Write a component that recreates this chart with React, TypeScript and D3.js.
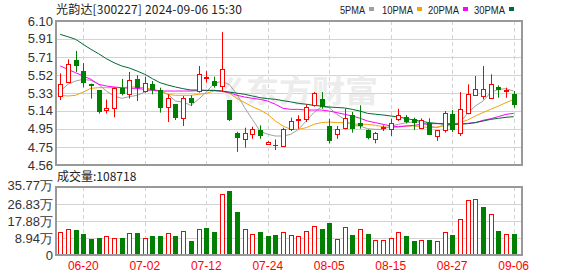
import React from "react";
import * as d3 from "d3";

const dates = [
  "06-17","06-18","06-19","06-20","06-21","06-24","06-25","06-26","06-27","06-28",
  "07-01","07-02","07-03","07-04","07-05","07-08","07-09","07-10","07-11","07-12",
  "07-15","07-16","07-17","07-18","07-19","07-22","07-23","07-24","07-25","07-26",
  "07-29","07-30","07-31","08-01","08-02","08-05","08-06","08-07","08-08","08-09",
  "08-12","08-13","08-14","08-15","08-16","08-19","08-20","08-21","08-22","08-23",
  "08-26","08-27","08-28","08-29","08-30","09-02","09-03","09-04","09-05","09-06",
];

const opens = [
  5.30,5.45,5.68,5.56,5.43,5.36,5.15,5.17,5.38,5.32,
  5.476,5.35,5.43,5.36,5.184,5.209,5.059,5.28,5.351,5.487,
  5.458,5.405,5.252,4.906,4.834,4.895,4.93,4.788,4.777,4.763,
  4.941,5.048,5.055,5.2,5.262,4.977,4.888,4.959,5.095,5.005,
  4.93,4.834,4.952,4.941,5.048,5.073,5.055,4.959,5.013,4.87,
  4.93,5.102,4.906,5.12,5.312,5.298,5.28,5.398,5.348,5.323,
];
const closes = [
  5.43,5.64,5.62,5.44,5.405,5.13,5.166,5.38,5.32,5.47,
  5.387,5.44,5.36,5.166,5.28,5.059,5.28,5.227,5.53,5.505,
  5.405,5.59,5.041,4.845,4.906,4.941,4.87,4.809,4.77,4.948,
  5.03,5.055,5.184,5.326,5.184,4.817,4.941,5.066,4.941,4.977,
  4.852,4.899,4.966,5.013,5.095,5.02,5.005,5.041,4.88,4.93,
  5.12,4.934,5.155,5.316,5.376,5.369,5.43,5.358,5.362,5.198,
];
const highs = [
  5.54,5.69,5.78,5.65,5.43,5.36,5.26,5.39,5.48,5.555,
  5.52,5.505,5.458,5.387,5.316,5.209,5.298,5.305,5.619,5.565,
  5.505,5.982,5.252,4.916,4.959,4.97,4.984,4.816,4.834,4.959,
  5.066,5.091,5.209,5.34,5.34,5.055,4.977,5.162,5.127,5.198,
  4.941,4.913,4.984,5.055,5.162,5.095,5.066,5.059,5.059,4.93,
  5.137,5.148,5.34,5.423,5.512,5.619,5.53,5.412,5.387,5.351,
];
const lows = [
  5.255,5.44,5.555,5.39,5.27,5.11,5.11,5.07,5.305,5.27,
  5.244,5.334,5.316,5.12,5.02,5.041,4.977,5.19,5.334,5.44,
  5.387,5.344,5.03,4.70,4.745,4.84,4.84,4.777,4.72,4.763,
  4.923,4.948,5.02,5.184,5.162,4.792,4.84,4.941,4.906,4.948,
  4.834,4.792,4.923,4.87,5.03,5.005,4.934,4.948,4.88,4.817,
  4.906,4.913,4.87,5.102,5.312,5.262,5.28,5.28,5.28,5.173,
];

// 成交量 (万)
const volumes = [
  12.1,13.5,13.2,11.0,8.4,8.9,9.8,8.8,8.9,11.4,
  11.7,8.9,10.0,10.0,11.4,10.0,12.6,7.4,13.5,14.2,
  12.1,32.1,33.7,22.6,13.5,11.0,12.1,10.0,10.5,12.1,
  10.5,10.0,12.6,15.3,13.9,17.0,8.4,14.7,10.7,13.7,
  11.2,7.9,7.9,8.9,12.1,10.0,7.5,7.9,7.9,7.4,
  12.1,10.5,18.8,28.9,29.5,25.2,21.6,12.6,11.0,10.87,
];

const ma5 = [
  5.351,5.423,5.458,5.476,5.465,5.423,5.351,5.298,5.273,5.291,
  5.305,5.34,5.369,5.351,5.316,5.244,5.234,5.198,5.262,5.34,
  5.43,5.455,5.42,5.316,5.173,5.048,4.923,4.888,4.87,4.87,
  4.888,4.941,5.03,5.12,5.184,5.173,5.102,5.048,4.984,4.977,
  4.948,4.941,4.941,4.977,4.995,5.013,5.02,5.02,4.977,4.959,
  4.984,4.977,5.013,5.112,5.19,5.244,5.334,5.369,5.376,5.351,
];
const ma10 = [
  5.305,5.298,5.305,5.34,5.38,5.387,5.387,5.387,5.387,5.394,
  5.394,5.387,5.369,5.351,5.316,5.305,5.305,5.305,5.316,5.326,
  5.351,5.351,5.326,5.273,5.227,5.184,5.148,5.102,5.03,4.977,
  4.941,4.941,4.959,4.995,5.013,5.02,5.013,5.013,5.0,4.995,
  4.995,4.984,4.97,4.959,4.966,4.977,4.977,4.97,4.959,4.966,
  4.984,4.995,5.013,5.041,5.084,5.12,5.155,5.19,5.227,5.262,
];
const ma20 = [
  5.619,5.583,5.547,5.512,5.476,5.423,5.405,5.394,5.387,5.38,
  5.38,5.369,5.358,5.351,5.351,5.351,5.351,5.351,5.355,5.358,
  5.358,5.351,5.334,5.305,5.287,5.273,5.262,5.244,5.209,5.166,
  5.155,5.155,5.148,5.148,5.148,5.137,5.12,5.102,5.084,5.06,
  5.03,5.013,4.995,4.977,4.97,4.977,4.984,4.995,5.002,5.002,
  5.005,5.002,5.002,5.005,5.013,5.038,5.055,5.077,5.102,5.112,
];
const ma30 = [
  5.957,5.932,5.904,5.85,5.797,5.75,5.697,5.654,5.619,5.597,
  5.565,5.53,5.483,5.44,5.415,5.394,5.376,5.362,5.362,5.358,
  5.358,5.35,5.34,5.328,5.316,5.298,5.28,5.27,5.262,5.248,
  5.235,5.219,5.21,5.198,5.19,5.18,5.175,5.17,5.155,5.137,
  5.112,5.103,5.095,5.084,5.073,5.057,5.041,5.027,5.013,5.005,
  4.995,4.995,4.995,5.002,5.013,5.03,5.048,5.059,5.07,5.077,
];

const priceTicks = ["6.10","5.91","5.71","5.52","5.33","5.14","4.95","4.75","4.56"];
const volTickValues = [0, 8.94, 17.88, 26.83, 35.77];
const volTickLabels = ["0", "8.94万", "17.88万", "26.83万", "35.77万"];
const xTickLabels = ["06-20","07-02","07-12","07-24","08-05","08-15","08-27","09-06"];

const legendNames = ["5PMA", "10PMA", "20PMA", "30PMA"];
const legendColors = ["#a0a0a0", "#f0a30a", "#ff00ff", "#006b33"];

const titleText = "光韵达[300227] 2024-09-06 15:30";
const volTitle = "成交量:108718";

const RED = "#ff0000";
const GREEN = "#008000";
const GRID = "#d3d3d3";
const BORDER = "#999999";
const LABEL = "#333333";

export default function App() {
  const W = 578, H = 276;
  const L = 56, R = 522;
  const mainTop = 21, mainBot = 165;
  const volTop = 187, volBot = 255;

  const x = d3.scalePoint<string>().domain(dates).range([60.2, 513.7]);
  const y = d3.scaleLinear().domain([4.56, 6.10]).range([mainBot, mainTop]);
  const yv = d3.scaleLinear().domain([0, 35.77]).range([volBot, volTop]);

  const maLines = [ma5, ma10, ma20, ma30];
  const lineGen = (arr: number[]) =>
    d3.line<number>().x((_, i) => x(dates[i]) as number).y((v) => y(v))(arr) || "";

  const sans = "'Liberation Sans', Arial, sans-serif";
  const cjk = "'Noto Sans CJK SC', sans-serif";

  return (
    <svg width={W} height={H} style={{ position: "absolute", left: 0, top: 0, background: "#fff" }}>
      <rect x={0} y={0} width={W} height={H} fill="#fff" />
      {/* title */}
      <text x={56} y={14} fontSize={12} fontFamily={cjk} fill="#222" textLength={186} lengthAdjust="spacing">{titleText}</text>
      {/* legend */}
      {legendNames.map((n, k) => {
        const lx = [340, 382, 428, 474][k];
        return (
          <g key={n}>
            <text x={lx} y={14} fontSize={10.5} fontFamily={sans} fill="#222" textLength={n.length === 4 ? 25 : 31} lengthAdjust="spacingAndGlyphs">{n}</text>
            <rect x={lx + (n.length === 4 ? 29 : 35)} y={7} width={5} height={4} fill={legendColors[k]} />
          </g>
        );
      })}

      {/* main grid */}
      {priceTicks.map((t) => (
        <line key={"hg" + t} x1={L} x2={R} y1={Math.round(y(+t)) + 0.5} y2={Math.round(y(+t)) + 0.5} stroke={GRID} strokeWidth={1} />
      ))}
      {volTickValues.map((v) => (
        <line key={"vg" + v} x1={L} x2={R} y1={Math.round(yv(v)) + 0.5} y2={Math.round(yv(v)) + 0.5} stroke={GRID} strokeWidth={1} />
      ))}
      {xTickLabels.map((d) => {
        const xx = Math.round(x(d) as number) + 0.5;
        return (
          <g key={"xg" + d}>
            <line x1={xx} x2={xx} y1={mainTop} y2={mainBot} stroke={GRID} strokeDasharray="4,3" />
            <line x1={xx} x2={xx} y1={volTop} y2={volBot} stroke={GRID} strokeDasharray="4,3" />
          </g>
        );
      })}

      {/* watermark */}
      <text x={246} y={102} fontSize={31} fontWeight="bold" fontFamily={cjk} fill="#ececec" textLength={132} lengthAdjust="spacingAndGlyphs">东方财富</text>
      <path d="M232,78 L224,90 L232,102 M240,78 L232,90 L240,102" stroke="#ececec" strokeWidth={4} fill="none" />

      {/* MA lines */}
      {maLines.map((arr, k) => (
        <path key={"ma" + k} d={lineGen(arr)} fill="none" stroke={legendColors[k]} strokeWidth={1} />
      ))}

      {/* candles */}
      {dates.map((d, i) => {
        const cx = Math.round(x(d) as number);
        const o = opens[i], c = closes[i], h = highs[i], l = lows[i];
        const up = c >= o;
        const top = Math.round(y(Math.max(o, c)));
        const bot = Math.round(y(Math.min(o, c)));
        const bh = Math.max(bot - top, 1);
        const col = up ? RED : GREEN;
        return (
          <g key={"c" + d}>
            <line x1={cx + 0.5} x2={cx + 0.5} y1={y(h)} y2={y(l)} stroke={col} strokeWidth={1} />
            {up ? (
              <rect x={cx - 2 + 0.5} y={top + 0.5} width={4} height={bh} fill="#fff" stroke={col} strokeWidth={1} />
            ) : (
              <rect x={cx - 2} y={top} width={5} height={Math.max(bh, 1)} fill={col} />
            )}
          </g>
        );
      })}

      {/* volume bars */}
      {dates.map((d, i) => {
        const cx = Math.round(x(d) as number);
        const prev = i === 0 ? opens[0] : closes[i - 1];
        const up = closes[i] >= prev;
        const top = Math.round(yv(volumes[i]));
        return up ? (
          <rect key={"v" + d} x={cx - 2 + 0.5} y={top + 0.5} width={4} height={volBot - top - 1} fill="#fff" stroke={RED} strokeWidth={1} />
        ) : (
          <rect key={"v" + d} x={cx - 2} y={top} width={5} height={volBot - top} fill={GREEN} />
        );
      })}

      {/* borders */}
      <rect x={L} y={mainTop} width={R - L} height={mainBot - mainTop} fill="none" stroke={BORDER} strokeWidth={2} />
      <rect x={L} y={volTop} width={R - L} height={volBot - volTop} fill="none" stroke={BORDER} strokeWidth={2} />

      {/* y labels */}
      {priceTicks.map((t) => (
        <text key={"yl" + t} x={53} y={y(+t)} dy="0.36em" textAnchor="end" fontSize={13} fontFamily={sans} fill={LABEL}>{t}</text>
      ))}
      {volTickValues.map((v, k) => (
        <text key={"vl" + v} x={53} y={k === volTickValues.length - 1 ? yv(v) - 2 : yv(v)} dy="0.36em" textAnchor="end" fontSize={13} fontFamily={sans} fill={LABEL}>{volTickLabels[k]}</text>
      ))}
      <text x={57} y={177} dy="0.36em" fontSize={12} fontFamily={cjk} fill="#222">{volTitle}</text>

      {/* x labels */}
      {xTickLabels.map((d) => (
        <text key={"xl" + d} x={x(d) as number} y={270} textAnchor="middle" fontSize={12} fontFamily={sans} fill={RED}>{d}</text>
      ))}
    </svg>
  );
}
